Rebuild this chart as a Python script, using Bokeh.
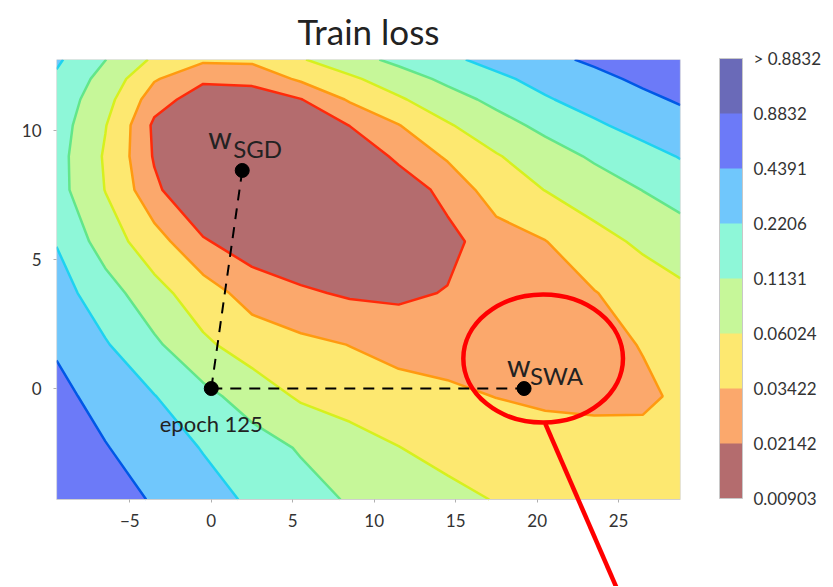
import numpy as np
from bokeh.plotting import figure
from bokeh.models import ColorBar, LinearColorMapper, FixedTicker, Label, Range1d
from bokeh.embed import file_html
from bokeh.resources import INLINE

# ---------------- data ----------------
# contour level boundaries of the train loss (colour bar)
levels = [0.00903, 0.02142, 0.03422, 0.06024, 0.1131, 0.2206, 0.4391, 0.8832]
level_labels = ["0.00903", "0.02142", "0.03422", "0.06024", "0.1131",
                "0.2206", "0.4391", "0.8832", "> 0.8832"]
top_level = 1.7664  # open upper band "> 0.8832"

x_grid = [-9.5, -6.5, -3.5, -0.5, 2.5, 5.5, 8.5, 11.5, 14.5, 17.5, 20.5, 23.5, 26.5, 28.8]
y_grid_top_down = [12.75, 12.0, 11.2, 10.2, 9.0, 7.7, 5.7, 3.7, 1.7, -0.3, -2.3, -4.3]
loss_rows_top_down = [
    [0.2446, 0.1146, 0.05472, 0.03725, 0.03767, 0.05758, 0.08846, 0.1328, 0.1943, 0.2731, 0.3747, 0.4877, 0.6495, 0.7899],
    [0.1996, 0.08846, 0.03601, 0.02298, 0.02465, 0.03704, 0.05411, 0.08359, 0.1302, 0.1930, 0.2712, 0.3696, 0.4980, 0.6228],
    [0.1689, 0.07416, 0.02584, 0.01726, 0.01653, 0.02105, 0.03621, 0.05597, 0.08681, 0.1337, 0.2077, 0.2846, 0.3825, 0.4709],
    [0.1528, 0.06178, 0.01964, 0.01391, 0.01332, 0.01516, 0.02162, 0.03359, 0.05693, 0.0879, 0.1337, 0.1996, 0.2788, 0.3426],
    [0.1429, 0.05629, 0.02051, 0.01332, 0.01222, 0.01276, 0.01516, 0.02342, 0.03642, 0.05758, 0.08464, 0.1233, 0.1758, 0.2283],
    [0.1429, 0.05923, 0.02352, 0.01332, 0.01170, 0.01170, 0.01222, 0.01653, 0.02453, 0.04414, 0.06100, 0.08254, 0.1146, 0.1518],
    [0.2133, 0.08254, 0.04219, 0.02245, 0.01653, 0.01452, 0.01391, 0.01276, 0.01881, 0.02707, 0.03375, 0.04915, 0.06705, 0.07998],
    [0.2945, 0.1508, 0.07416, 0.04315, 0.02797, 0.02298, 0.02016, 0.01964, 0.02193, 0.02408, 0.02918, 0.03343, 0.04414, 0.05380],
    [0.4042, 0.2331, 0.1267, 0.06705, 0.04541, 0.03832, 0.03391, 0.02891, 0.02837, 0.02837, 0.02784, 0.02864, 0.03520, 0.04171],
    [0.5304, 0.3450, 0.2252, 0.1364, 0.08464, 0.05534, 0.04541, 0.04148, 0.03725, 0.03391, 0.03190, 0.03116, 0.03116, 0.03725],
    [0.6679, 0.4547, 0.3112, 0.2133, 0.1498, 0.1069, 0.08048, 0.06100, 0.04999, 0.04414, 0.04101, 0.04010, 0.04055, 0.04243],
    [0.7954, 0.6014, 0.4125, 0.2846, 0.1996, 0.1439, 0.1069, 0.08790, 0.07096, 0.05856, 0.05380, 0.05085, 0.04943, 0.04943],
]

# marked weights
point_names = ["epoch 125", "SGD", "SWA"]
point_x = [0.0, 1.9, 19.2]
point_y = [0.0, 8.45, 0.0]

x_ticks = [-5, 0, 5, 10, 15, 20, 25]
y_ticks = [0, 5, 10]

# ---------------- styles / layout ----------------
band_colors = ["#b46c6e", "#fba86c", "#fde870", "#c6f799",
               "#8ef7d8", "#70c7fc", "#6c7af8", "#6a6ab8"]
line_colors = ["#b46c6e", "#ff2a0a", "#ff9a10", "#d6f01e", "#62e68a",
               "#1ed2f0", "#0058e6", "#2030c0", "#6a6ab8"]
FONT = "Lato"
TXT = "#222222"

x_lo, x_hi = x_grid[0], x_grid[-1]
y_lo, y_hi = y_grid_top_down[-1], y_grid_top_down[0]
PLOT_H = 440          # px height of the contour area
EXTRA = 87            # px of frame kept below it so the pointer line can run off the plot
y_ext = y_lo - EXTRA * (y_hi - y_lo) / PLOT_H

p = figure(output_backend="svg", toolbar_location=None,
           frame_width=624, frame_height=PLOT_H + EXTRA,
           min_border_left=56, min_border_right=152,
           min_border_top=59, min_border_bottom=0,
           x_range=Range1d(x_lo, x_hi), y_range=Range1d(y_ext, y_hi))
p.background_fill_color = "white"
p.border_fill_color = "white"
p.outline_line_color = None
p.grid.visible = False

p.title.text = "Train loss"
p.title.align = "center"
p.title.text_font = FONT
p.title.text_font_size = "35px"
p.title.text_font_style = "normal"
p.title.text_color = TXT
p.title.standoff = 15

# contour (in log space so interpolation follows the geometric levels)
x = np.array(x_grid)
y = np.array(y_grid_top_down)[::-1]
z = np.log(np.array(loss_rows_top_down)[::-1])
lv = np.log(np.array(levels + [top_level]))
p.contour(x, y, z, lv, fill_color=band_colors, line_color=line_colors, line_width=2.5)

# plot-area border
p.quad(left=[x_lo], right=[x_hi], bottom=[y_lo], top=[y_hi],
       fill_color=None, line_color="#cfcfcf", line_width=1.2)

# dashed paths epoch 125 -> SGD, epoch 125 -> SWA
p.line([point_x[0], point_x[1]], [point_y[0], point_y[1]], line_color="black",
       line_width=2, line_dash="11 8")
p.line([point_x[0], point_x[2]], [point_y[0], point_y[2]], line_color="black",
       line_width=2, line_dash="11 8")
p.scatter(point_x, point_y, size=14, color="black")

# labels
def lab(x0, y0, text, dx, dy, size, align="left"):
    p.add_layout(Label(x=x0, y=y0, text=text, x_offset=dx, y_offset=dy,
                       text_font=FONT, text_font_size=size, text_color=TXT,
                       text_align=align, text_baseline="alphabetic"))

lab(point_x[0], point_y[0], "epoch 125", 0, -35, "22px", "center")
lab(point_x[1], point_y[1], "w", -34, 33, "30px")
lab(point_x[1], point_y[1], "SGD", -9, 22, "24px")
lab(point_x[2], point_y[2], "w", -17, 24, "30px")
lab(point_x[2], point_y[2], "SWA", 6, 13, "24px")

# red highlight around SWA, with a pointer line running off the plot
p.ellipse(x=point_x[2] + 1.17, y=point_y[2] + 1.16, width=9.8, height=4.96,
          fill_color=None, line_color="#ff0000", line_width=4.5)
p.line([point_x[2] + 1.3, point_x[2] + 5.8], [point_y[2] - 1.36, point_y[2] - 7.9],
       line_color="#ff0000", line_width=4.5)

# axes (x axis drawn at the bottom edge of the contour area)
for ax in (p.xaxis[0], p.yaxis[0]):
    ax.axis_line_color = None
    ax.major_tick_line_color = "#b0b0b0"
    ax.major_tick_in = 0
    ax.major_tick_out = 3
    ax.minor_tick_line_color = None
    ax.major_label_text_font = FONT
    ax.major_label_text_font_size = "17px"
    ax.major_label_text_color = "#333333"
p.xaxis.fixed_location = y_lo
p.xaxis.ticker = FixedTicker(ticks=x_ticks)
p.yaxis.ticker = FixedTicker(ticks=y_ticks)
p.xaxis.major_label_overrides = {t: (str(t).replace("-", "\u2212")) for t in x_ticks}
p.yaxis.major_label_overrides = {t: (str(t).replace("-", "\u2212")) for t in y_ticks}
p.xaxis.major_label_standoff = 11
p.yaxis.major_label_standoff = 12

# colour bar with evenly spaced level bands
mapper = LinearColorMapper(palette=band_colors, low=0, high=len(band_colors))
cb = ColorBar(color_mapper=mapper, ticker=FixedTicker(ticks=list(range(len(level_labels)))),
              major_label_overrides={i: s for i, s in enumerate(level_labels)},
              width=23, height=PLOT_H, location=(663, EXTRA + 1), padding=0, margin=0,
              bar_line_color="#c8c8c8", major_tick_line_color=None,
              minor_tick_line_color=None, label_standoff=11,
              major_label_text_font=FONT, major_label_text_font_size="17px",
              major_label_text_color="#333333",
              background_fill_alpha=0, border_line_color=None)
p.add_layout(cb, "center")

open("out.html", "w").write(file_html(p, INLINE))
